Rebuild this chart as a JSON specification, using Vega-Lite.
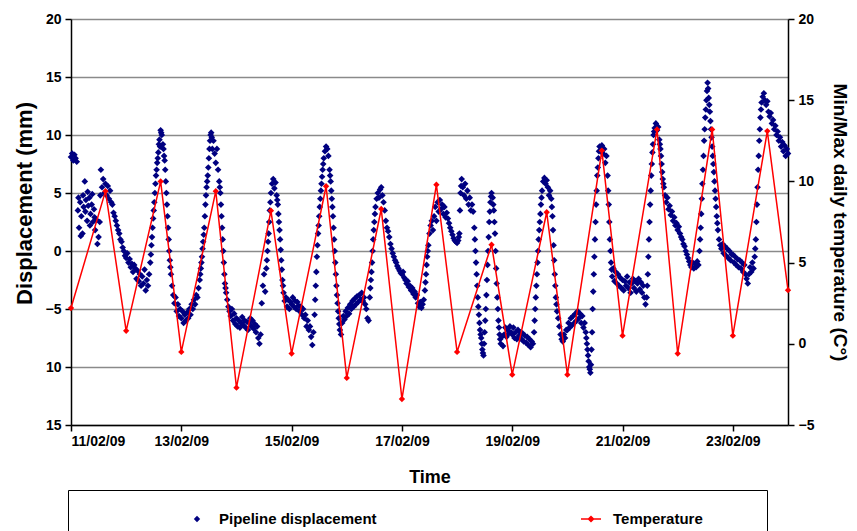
{
"$schema":"https://vega.github.io/schema/vega-lite/v6.json",
"width":717,"height":406,
"autosize":{"type":"none"},
"padding":{"left":71,"top":19,"right":69,"bottom":106},
"background":"#ffffff",
"config":{"view":{"stroke":null},"font":"Liberation Sans",
 "axis":{"domainColor":"#000","domainWidth":1.5,"tickColor":"#000","tickWidth":1.5,"labelColor":"#000","titleColor":"#000","labelFontWeight":"bold","titleFontWeight":"bold","labelFont":"Liberation Sans","titleFont":"Liberation Sans"}},
"datasets":{
"disp":[
{"t":"2009-02-11T00:00","d":8.1},{"t":"2009-02-11T00:30","d":8.4},{"t":"2009-02-11T01:00","d":7.8},{"t":"2009-02-11T01:30","d":8.3},{"t":"2009-02-11T02:00","d":8.0},{"t":"2009-02-11T02:30","d":7.7},{"t":"2009-02-11T03:00","d":3.5},{"t":"2009-02-11T03:15","d":4.6},{"t":"2009-02-11T03:30","d":2.0},{"t":"2009-02-11T04:00","d":4.2},{"t":"2009-02-11T04:15","d":1.3},{"t":"2009-02-11T04:30","d":3.0},{"t":"2009-02-11T05:00","d":1.5},{"t":"2009-02-11T05:15","d":4.8},{"t":"2009-02-11T05:30","d":3.8},{"t":"2009-02-11T06:00","d":6.0},{"t":"2009-02-11T06:15","d":3.4},{"t":"2009-02-11T06:30","d":4.4},{"t":"2009-02-11T07:00","d":2.6},{"t":"2009-02-11T07:15","d":5.1},{"t":"2009-02-11T07:30","d":3.9},{"t":"2009-02-11T08:00","d":4.6},{"t":"2009-02-11T08:15","d":2.2},{"t":"2009-02-11T08:30","d":3.2},{"t":"2009-02-11T09:00","d":4.0},{"t":"2009-02-11T09:15","d":4.9},{"t":"2009-02-11T09:30","d":2.5},{"t":"2009-02-11T10:00","d":3.6},{"t":"2009-02-11T10:15","d":2.9},{"t":"2009-02-11T10:30","d":1.8},{"t":"2009-02-11T11:00","d":2.7},{"t":"2009-02-11T11:30","d":0.6},{"t":"2009-02-11T12:00","d":1.2},{"t":"2009-02-11T12:30","d":2.5},{"t":"2009-02-11T12:45","d":4.8},{"t":"2009-02-11T13:00","d":7.0},{"t":"2009-02-11T13:30","d":5.5},{"t":"2009-02-11T14:00","d":6.2},{"t":"2009-02-11T14:30","d":5.0},{"t":"2009-02-11T15:00","d":5.8},{"t":"2009-02-11T15:30","d":4.8},{"t":"2009-02-11T16:00","d":5.6},{"t":"2009-02-11T16:30","d":4.5},{"t":"2009-02-11T17:00","d":5.2},{"t":"2009-02-11T17:30","d":4.2},{"t":"2009-02-11T18:00","d":4.0},{"t":"2009-02-11T18:30","d":3.3},{"t":"2009-02-11T19:00","d":3.0},{"t":"2009-02-11T19:30","d":2.6},{"t":"2009-02-11T20:00","d":2.2},{"t":"2009-02-11T20:30","d":1.8},{"t":"2009-02-11T21:00","d":1.5},{"t":"2009-02-11T21:30","d":1.0},{"t":"2009-02-11T22:00","d":0.8},{"t":"2009-02-11T22:30","d":0.3},{"t":"2009-02-11T23:00","d":0.0},{"t":"2009-02-11T23:30","d":-0.4},
{"t":"2009-02-12T00:00","d":-0.6},{"t":"2009-02-12T00:30","d":-0.2},{"t":"2009-02-12T01:00","d":-1.0},{"t":"2009-02-12T01:30","d":-0.7},{"t":"2009-02-12T02:00","d":-1.4},{"t":"2009-02-12T02:30","d":-1.1},{"t":"2009-02-12T03:00","d":-1.8},{"t":"2009-02-12T03:30","d":-1.2},{"t":"2009-02-12T04:00","d":-1.5},{"t":"2009-02-12T04:30","d":-2.4},{"t":"2009-02-12T05:00","d":-1.7},{"t":"2009-02-12T05:30","d":-2.6},{"t":"2009-02-12T06:00","d":-2.0},{"t":"2009-02-12T06:30","d":-3.0},{"t":"2009-02-12T07:00","d":-2.2},{"t":"2009-02-12T07:30","d":-2.8},{"t":"2009-02-12T08:00","d":-1.6},{"t":"2009-02-12T08:30","d":-3.4},{"t":"2009-02-12T09:00","d":-2.5},{"t":"2009-02-12T09:30","d":-3.0},{"t":"2009-02-12T10:00","d":-2.0},{"t":"2009-02-12T10:30","d":-1.0},{"t":"2009-02-12T11:00","d":0.5},{"t":"2009-02-12T11:30","d":2.0},{"t":"2009-02-12T12:00","d":3.5},{"t":"2009-02-12T12:30","d":5.0},{"t":"2009-02-12T13:00","d":6.5},{"t":"2009-02-12T13:30","d":7.6},{"t":"2009-02-12T14:00","d":8.5},{"t":"2009-02-12T14:30","d":9.6},{"t":"2009-02-12T14:45","d":9.0},{"t":"2009-02-12T15:00","d":10.4},{"t":"2009-02-12T15:15","d":10.2},{"t":"2009-02-12T15:30","d":10.0},{"t":"2009-02-12T16:00","d":9.2},{"t":"2009-02-12T16:15","d":8.8},{"t":"2009-02-12T16:30","d":8.2},{"t":"2009-02-12T17:00","d":7.0},{"t":"2009-02-12T17:30","d":5.0},{"t":"2009-02-12T18:00","d":3.0},{"t":"2009-02-12T18:30","d":1.0},{"t":"2009-02-12T19:00","d":-0.8},{"t":"2009-02-12T19:30","d":-2.0},{"t":"2009-02-12T20:00","d":-3.0},{"t":"2009-02-12T20:30","d":-3.8},{"t":"2009-02-12T21:00","d":-4.5},{"t":"2009-02-12T21:30","d":-4.0},{"t":"2009-02-12T22:00","d":-5.2},{"t":"2009-02-12T22:30","d":-4.6},{"t":"2009-02-12T23:00","d":-5.6},{"t":"2009-02-12T23:30","d":-5.0},
{"t":"2009-02-13T00:00","d":-5.8},{"t":"2009-02-13T00:30","d":-5.2},{"t":"2009-02-13T01:00","d":-6.2},{"t":"2009-02-13T01:30","d":-5.5},{"t":"2009-02-13T02:00","d":-6.0},{"t":"2009-02-13T02:30","d":-5.3},{"t":"2009-02-13T03:00","d":-5.8},{"t":"2009-02-13T03:30","d":-5.0},{"t":"2009-02-13T04:00","d":-5.5},{"t":"2009-02-13T04:30","d":-4.6},{"t":"2009-02-13T05:00","d":-5.0},{"t":"2009-02-13T05:30","d":-4.2},{"t":"2009-02-13T06:00","d":-4.6},{"t":"2009-02-13T06:30","d":-3.8},{"t":"2009-02-13T07:00","d":-4.0},{"t":"2009-02-13T07:30","d":-3.2},{"t":"2009-02-13T08:00","d":-2.5},{"t":"2009-02-13T08:30","d":-1.5},{"t":"2009-02-13T09:00","d":-0.5},{"t":"2009-02-13T09:30","d":0.8},{"t":"2009-02-13T10:00","d":2.0},{"t":"2009-02-13T10:30","d":4.0},{"t":"2009-02-13T11:00","d":5.5},{"t":"2009-02-13T11:30","d":6.5},{"t":"2009-02-13T12:00","d":8.0},{"t":"2009-02-13T12:30","d":9.5},{"t":"2009-02-13T13:00","d":10.2},{"t":"2009-02-13T13:15","d":9.8},{"t":"2009-02-13T13:30","d":8.8},{"t":"2009-02-13T14:00","d":9.5},{"t":"2009-02-13T14:30","d":8.4},{"t":"2009-02-13T15:00","d":7.6},{"t":"2009-02-13T15:30","d":8.8},{"t":"2009-02-13T16:00","d":7.0},{"t":"2009-02-13T16:30","d":6.0},{"t":"2009-02-13T17:00","d":5.0},{"t":"2009-02-13T17:30","d":3.0},{"t":"2009-02-13T18:00","d":1.0},{"t":"2009-02-13T18:30","d":-1.0},{"t":"2009-02-13T19:00","d":-2.8},{"t":"2009-02-13T19:30","d":-3.6},{"t":"2009-02-13T20:00","d":-4.2},{"t":"2009-02-13T20:30","d":-4.8},{"t":"2009-02-13T21:00","d":-5.2},{"t":"2009-02-13T21:30","d":-5.6},{"t":"2009-02-13T22:00","d":-5.0},{"t":"2009-02-13T22:30","d":-6.0},{"t":"2009-02-13T23:00","d":-5.4},{"t":"2009-02-13T23:30","d":-6.3},
{"t":"2009-02-14T00:00","d":-5.8},{"t":"2009-02-14T00:30","d":-6.5},{"t":"2009-02-14T01:00","d":-6.0},{"t":"2009-02-14T01:30","d":-6.6},{"t":"2009-02-14T02:00","d":-6.2},{"t":"2009-02-14T02:30","d":-5.7},{"t":"2009-02-14T03:00","d":-6.4},{"t":"2009-02-14T03:30","d":-6.0},{"t":"2009-02-14T04:00","d":-6.6},{"t":"2009-02-14T04:30","d":-6.1},{"t":"2009-02-14T05:00","d":-6.8},{"t":"2009-02-14T05:30","d":-6.2},{"t":"2009-02-14T06:00","d":-5.8},{"t":"2009-02-14T06:30","d":-6.5},{"t":"2009-02-14T07:00","d":-6.0},{"t":"2009-02-14T07:30","d":-6.7},{"t":"2009-02-14T08:00","d":-6.3},{"t":"2009-02-14T08:30","d":-7.0},{"t":"2009-02-14T09:00","d":-6.5},{"t":"2009-02-14T09:30","d":-7.5},{"t":"2009-02-14T10:00","d":-8.0},{"t":"2009-02-14T10:30","d":-7.2},{"t":"2009-02-14T11:00","d":-4.5},{"t":"2009-02-14T11:30","d":-3.0},{"t":"2009-02-14T12:00","d":-2.0},{"t":"2009-02-14T12:30","d":-3.5},{"t":"2009-02-14T13:00","d":-1.5},{"t":"2009-02-14T13:30","d":0.0},{"t":"2009-02-14T14:00","d":1.5},{"t":"2009-02-14T14:30","d":3.5},{"t":"2009-02-14T15:00","d":5.0},{"t":"2009-02-14T15:30","d":5.8},{"t":"2009-02-14T16:00","d":6.2},{"t":"2009-02-14T16:30","d":5.4},{"t":"2009-02-14T17:00","d":5.9},{"t":"2009-02-14T17:30","d":4.8},{"t":"2009-02-14T18:00","d":4.0},{"t":"2009-02-14T18:30","d":2.5},{"t":"2009-02-14T19:00","d":1.0},{"t":"2009-02-14T19:30","d":-0.8},{"t":"2009-02-14T20:00","d":-2.5},{"t":"2009-02-14T20:30","d":-3.6},{"t":"2009-02-14T21:00","d":-4.3},{"t":"2009-02-14T21:30","d":-4.0},{"t":"2009-02-14T22:00","d":-4.8},{"t":"2009-02-14T22:30","d":-4.2},{"t":"2009-02-14T23:00","d":-5.0},{"t":"2009-02-14T23:30","d":-4.4},
{"t":"2009-02-15T00:00","d":-4.6},{"t":"2009-02-15T00:30","d":-4.0},{"t":"2009-02-15T01:00","d":-4.8},{"t":"2009-02-15T01:30","d":-4.3},{"t":"2009-02-15T02:00","d":-5.0},{"t":"2009-02-15T02:30","d":-4.4},{"t":"2009-02-15T03:00","d":-4.7},{"t":"2009-02-15T03:30","d":-5.2},{"t":"2009-02-15T04:00","d":-4.8},{"t":"2009-02-15T04:30","d":-5.5},{"t":"2009-02-15T05:00","d":-5.0},{"t":"2009-02-15T05:30","d":-5.8},{"t":"2009-02-15T06:00","d":-5.5},{"t":"2009-02-15T06:30","d":-6.5},{"t":"2009-02-15T07:00","d":-6.0},{"t":"2009-02-15T07:30","d":-6.8},{"t":"2009-02-15T08:00","d":-6.5},{"t":"2009-02-15T08:30","d":-7.4},{"t":"2009-02-15T09:00","d":-8.1},{"t":"2009-02-15T09:30","d":-7.0},{"t":"2009-02-15T10:00","d":-5.5},{"t":"2009-02-15T10:30","d":-3.0},{"t":"2009-02-15T11:00","d":-0.5},{"t":"2009-02-15T11:30","d":1.5},{"t":"2009-02-15T12:00","d":3.0},{"t":"2009-02-15T12:30","d":4.5},{"t":"2009-02-15T13:00","d":5.8},{"t":"2009-02-15T13:30","d":7.0},{"t":"2009-02-15T14:00","d":8.0},{"t":"2009-02-15T14:30","d":8.6},{"t":"2009-02-15T15:00","d":9.0},{"t":"2009-02-15T15:30","d":8.8},{"t":"2009-02-15T16:00","d":8.2},{"t":"2009-02-15T16:30","d":7.0},{"t":"2009-02-15T17:00","d":6.0},{"t":"2009-02-15T17:30","d":4.5},{"t":"2009-02-15T18:00","d":3.0},{"t":"2009-02-15T18:30","d":1.0},{"t":"2009-02-15T19:00","d":-1.0},{"t":"2009-02-15T19:30","d":-3.0},{"t":"2009-02-15T20:00","d":-4.5},{"t":"2009-02-15T20:30","d":-5.8},{"t":"2009-02-15T21:00","d":-6.8},{"t":"2009-02-15T21:30","d":-7.2},{"t":"2009-02-15T22:00","d":-6.2},{"t":"2009-02-15T22:30","d":-5.6},{"t":"2009-02-15T23:00","d":-5.9},{"t":"2009-02-15T23:30","d":-5.2},
{"t":"2009-02-16T00:00","d":-5.6},{"t":"2009-02-16T00:30","d":-4.9},{"t":"2009-02-16T01:00","d":-5.4},{"t":"2009-02-16T01:30","d":-4.6},{"t":"2009-02-16T02:00","d":-5.0},{"t":"2009-02-16T02:30","d":-4.3},{"t":"2009-02-16T03:00","d":-4.8},{"t":"2009-02-16T03:30","d":-4.1},{"t":"2009-02-16T04:00","d":-4.6},{"t":"2009-02-16T04:30","d":-3.9},{"t":"2009-02-16T05:00","d":-4.4},{"t":"2009-02-16T05:30","d":-3.8},{"t":"2009-02-16T06:00","d":-4.2},{"t":"2009-02-16T06:30","d":-3.6},{"t":"2009-02-16T07:00","d":-4.3},{"t":"2009-02-16T07:30","d":-4.0},{"t":"2009-02-16T08:00","d":-4.6},{"t":"2009-02-16T08:30","d":-5.0},{"t":"2009-02-16T09:00","d":-5.8},{"t":"2009-02-16T09:30","d":-6.0},{"t":"2009-02-16T10:00","d":-4.0},{"t":"2009-02-16T10:30","d":-2.5},{"t":"2009-02-16T11:00","d":-1.0},{"t":"2009-02-16T11:30","d":1.0},{"t":"2009-02-16T12:00","d":2.5},{"t":"2009-02-16T12:30","d":3.8},{"t":"2009-02-16T13:00","d":4.5},{"t":"2009-02-16T13:30","d":5.0},{"t":"2009-02-16T14:00","d":4.6},{"t":"2009-02-16T14:30","d":5.3},{"t":"2009-02-16T15:00","d":5.5},{"t":"2009-02-16T15:30","d":4.8},{"t":"2009-02-16T16:00","d":4.2},{"t":"2009-02-16T16:30","d":3.5},{"t":"2009-02-16T17:00","d":2.6},{"t":"2009-02-16T17:30","d":2.0},{"t":"2009-02-16T18:00","d":1.7},{"t":"2009-02-16T18:30","d":1.2},{"t":"2009-02-16T19:00","d":0.6},{"t":"2009-02-16T19:30","d":0.2},{"t":"2009-02-16T20:00","d":-0.2},{"t":"2009-02-16T20:30","d":-0.5},{"t":"2009-02-16T21:00","d":-0.8},{"t":"2009-02-16T21:30","d":-1.0},{"t":"2009-02-16T22:00","d":-1.3},{"t":"2009-02-16T22:30","d":-1.5},{"t":"2009-02-16T23:00","d":-1.7},{"t":"2009-02-16T23:30","d":-1.9},
{"t":"2009-02-17T00:00","d":-2.0},{"t":"2009-02-17T00:30","d":-1.8},{"t":"2009-02-17T01:00","d":-2.3},{"t":"2009-02-17T01:30","d":-2.5},{"t":"2009-02-17T02:00","d":-2.8},{"t":"2009-02-17T02:30","d":-2.6},{"t":"2009-02-17T03:00","d":-3.1},{"t":"2009-02-17T03:30","d":-3.0},{"t":"2009-02-17T04:00","d":-3.4},{"t":"2009-02-17T04:30","d":-3.2},{"t":"2009-02-17T05:00","d":-3.7},{"t":"2009-02-17T05:30","d":-3.5},{"t":"2009-02-17T06:00","d":-4.0},{"t":"2009-02-17T06:30","d":-3.8},{"t":"2009-02-17T07:00","d":-4.5},{"t":"2009-02-17T07:30","d":-4.8},{"t":"2009-02-17T08:00","d":-4.4},{"t":"2009-02-17T08:30","d":-4.9},{"t":"2009-02-17T09:00","d":-4.6},{"t":"2009-02-17T09:30","d":-4.2},{"t":"2009-02-17T10:00","d":-3.4},{"t":"2009-02-17T10:30","d":-2.0},{"t":"2009-02-17T11:00","d":-0.5},{"t":"2009-02-17T11:30","d":0.5},{"t":"2009-02-17T12:00","d":1.5},{"t":"2009-02-17T12:30","d":2.2},{"t":"2009-02-17T13:00","d":2.6},{"t":"2009-02-17T13:30","d":1.8},{"t":"2009-02-17T14:00","d":3.0},{"t":"2009-02-17T14:30","d":3.8},{"t":"2009-02-17T15:00","d":2.6},{"t":"2009-02-17T15:30","d":4.2},{"t":"2009-02-17T16:00","d":3.4},{"t":"2009-02-17T16:30","d":4.4},{"t":"2009-02-17T17:00","d":3.6},{"t":"2009-02-17T17:30","d":4.0},{"t":"2009-02-17T18:00","d":3.2},{"t":"2009-02-17T18:30","d":3.8},{"t":"2009-02-17T19:00","d":2.9},{"t":"2009-02-17T19:30","d":3.3},{"t":"2009-02-17T20:00","d":2.8},{"t":"2009-02-17T20:30","d":2.4},{"t":"2009-02-17T21:00","d":2.0},{"t":"2009-02-17T21:30","d":1.7},{"t":"2009-02-17T22:00","d":1.4},{"t":"2009-02-17T22:30","d":1.1},{"t":"2009-02-17T23:00","d":0.9},{"t":"2009-02-17T23:30","d":0.8},
{"t":"2009-02-18T00:00","d":0.7},{"t":"2009-02-18T00:30","d":0.9},{"t":"2009-02-18T01:00","d":1.5},{"t":"2009-02-18T01:15","d":3.5},{"t":"2009-02-18T01:30","d":5.0},{"t":"2009-02-18T02:00","d":6.2},{"t":"2009-02-18T02:30","d":5.5},{"t":"2009-02-18T03:00","d":4.8},{"t":"2009-02-18T03:30","d":5.8},{"t":"2009-02-18T04:00","d":4.5},{"t":"2009-02-18T04:30","d":5.2},{"t":"2009-02-18T05:00","d":4.0},{"t":"2009-02-18T05:30","d":4.6},{"t":"2009-02-18T06:00","d":3.5},{"t":"2009-02-18T06:30","d":4.0},{"t":"2009-02-18T07:00","d":3.4},{"t":"2009-02-18T07:30","d":2.0},{"t":"2009-02-18T08:00","d":0.0},{"t":"2009-02-18T08:30","d":-2.0},{"t":"2009-02-18T09:00","d":-4.0},{"t":"2009-02-18T09:30","d":-5.5},{"t":"2009-02-18T10:00","d":-6.8},{"t":"2009-02-18T10:30","d":-7.5},{"t":"2009-02-18T11:00","d":-8.5},{"t":"2009-02-18T11:30","d":-9.0},{"t":"2009-02-18T12:00","d":-7.0},{"t":"2009-02-18T12:30","d":-5.0},{"t":"2009-02-18T13:00","d":-2.5},{"t":"2009-02-18T13:30","d":0.0},{"t":"2009-02-18T14:00","d":2.5},{"t":"2009-02-18T14:30","d":4.2},{"t":"2009-02-18T15:00","d":5.0},{"t":"2009-02-18T15:30","d":4.6},{"t":"2009-02-18T16:00","d":3.5},{"t":"2009-02-18T16:30","d":1.5},{"t":"2009-02-18T17:00","d":-1.5},{"t":"2009-02-18T17:30","d":-4.0},{"t":"2009-02-18T18:00","d":-6.0},{"t":"2009-02-18T18:30","d":-7.2},{"t":"2009-02-18T19:00","d":-8.0},{"t":"2009-02-18T19:30","d":-7.4},{"t":"2009-02-18T20:00","d":-8.2},{"t":"2009-02-18T20:30","d":-7.2},{"t":"2009-02-18T21:00","d":-6.6},{"t":"2009-02-18T21:30","d":-7.4},{"t":"2009-02-18T22:00","d":-6.8},{"t":"2009-02-18T22:30","d":-7.1},{"t":"2009-02-18T23:00","d":-6.5},{"t":"2009-02-18T23:30","d":-7.0},
{"t":"2009-02-19T00:00","d":-7.2},{"t":"2009-02-19T00:30","d":-6.6},{"t":"2009-02-19T01:00","d":-7.5},{"t":"2009-02-19T01:30","d":-7.0},{"t":"2009-02-19T02:00","d":-7.6},{"t":"2009-02-19T02:30","d":-6.8},{"t":"2009-02-19T03:00","d":-7.3},{"t":"2009-02-19T03:30","d":-7.0},{"t":"2009-02-19T04:00","d":-7.6},{"t":"2009-02-19T04:30","d":-7.1},{"t":"2009-02-19T05:00","d":-7.8},{"t":"2009-02-19T05:30","d":-7.3},{"t":"2009-02-19T06:00","d":-7.9},{"t":"2009-02-19T06:30","d":-7.4},{"t":"2009-02-19T07:00","d":-8.1},{"t":"2009-02-19T07:30","d":-7.6},{"t":"2009-02-19T08:00","d":-8.3},{"t":"2009-02-19T08:30","d":-7.8},{"t":"2009-02-19T09:00","d":-8.0},{"t":"2009-02-19T09:30","d":-7.0},{"t":"2009-02-19T10:00","d":-5.0},{"t":"2009-02-19T10:30","d":-3.0},{"t":"2009-02-19T11:00","d":-1.0},{"t":"2009-02-19T11:30","d":1.0},{"t":"2009-02-19T12:00","d":2.5},{"t":"2009-02-19T12:30","d":4.0},{"t":"2009-02-19T13:00","d":5.2},{"t":"2009-02-19T13:30","d":6.0},{"t":"2009-02-19T14:00","d":6.3},{"t":"2009-02-19T14:30","d":5.8},{"t":"2009-02-19T15:00","d":6.1},{"t":"2009-02-19T15:30","d":5.5},{"t":"2009-02-19T16:00","d":4.8},{"t":"2009-02-19T16:30","d":5.2},{"t":"2009-02-19T17:00","d":4.5},{"t":"2009-02-19T17:30","d":3.0},{"t":"2009-02-19T18:00","d":0.5},{"t":"2009-02-19T18:30","d":-2.0},{"t":"2009-02-19T19:00","d":-4.0},{"t":"2009-02-19T19:30","d":-5.2},{"t":"2009-02-19T20:00","d":-5.8},{"t":"2009-02-19T20:30","d":-6.5},{"t":"2009-02-19T21:00","d":-7.2},{"t":"2009-02-19T21:30","d":-7.6},{"t":"2009-02-19T22:00","d":-7.8},{"t":"2009-02-19T22:30","d":-7.2},{"t":"2009-02-19T23:00","d":-7.5},{"t":"2009-02-19T23:30","d":-6.8},
{"t":"2009-02-20T00:00","d":-6.8},{"t":"2009-02-20T00:30","d":-6.2},{"t":"2009-02-20T01:00","d":-6.6},{"t":"2009-02-20T01:30","d":-5.8},{"t":"2009-02-20T02:00","d":-6.4},{"t":"2009-02-20T02:30","d":-5.6},{"t":"2009-02-20T03:00","d":-6.2},{"t":"2009-02-20T03:30","d":-5.4},{"t":"2009-02-20T04:00","d":-6.0},{"t":"2009-02-20T04:30","d":-5.2},{"t":"2009-02-20T05:00","d":-5.8},{"t":"2009-02-20T05:30","d":-5.4},{"t":"2009-02-20T06:00","d":-6.2},{"t":"2009-02-20T06:30","d":-5.6},{"t":"2009-02-20T07:00","d":-6.6},{"t":"2009-02-20T07:30","d":-6.2},{"t":"2009-02-20T08:00","d":-7.0},{"t":"2009-02-20T08:30","d":-8.0},{"t":"2009-02-20T09:00","d":-9.0},{"t":"2009-02-20T09:30","d":-10.0},{"t":"2009-02-20T10:00","d":-10.5},{"t":"2009-02-20T10:30","d":-8.5},{"t":"2009-02-20T11:00","d":-5.0},{"t":"2009-02-20T11:30","d":-2.0},{"t":"2009-02-20T12:00","d":1.0},{"t":"2009-02-20T12:30","d":4.0},{"t":"2009-02-20T13:00","d":6.5},{"t":"2009-02-20T13:30","d":8.0},{"t":"2009-02-20T14:00","d":9.0},{"t":"2009-02-20T14:30","d":8.6},{"t":"2009-02-20T15:00","d":9.1},{"t":"2009-02-20T15:30","d":8.4},{"t":"2009-02-20T16:00","d":8.8},{"t":"2009-02-20T16:30","d":7.6},{"t":"2009-02-20T17:00","d":8.2},{"t":"2009-02-20T17:30","d":6.5},{"t":"2009-02-20T18:00","d":4.0},{"t":"2009-02-20T18:30","d":1.0},{"t":"2009-02-20T19:00","d":-1.0},{"t":"2009-02-20T19:30","d":-2.2},{"t":"2009-02-20T20:00","d":-1.5},{"t":"2009-02-20T20:30","d":-2.6},{"t":"2009-02-20T21:00","d":-1.8},{"t":"2009-02-20T21:30","d":-2.8},{"t":"2009-02-20T22:00","d":-2.0},{"t":"2009-02-20T22:30","d":-3.0},{"t":"2009-02-20T23:00","d":-2.3},{"t":"2009-02-20T23:30","d":-3.2},
{"t":"2009-02-21T00:00","d":-2.5},{"t":"2009-02-21T00:30","d":-3.4},{"t":"2009-02-21T01:00","d":-2.6},{"t":"2009-02-21T01:30","d":-3.0},{"t":"2009-02-21T02:00","d":-2.2},{"t":"2009-02-21T02:30","d":-3.2},{"t":"2009-02-21T03:00","d":-2.7},{"t":"2009-02-21T03:30","d":-3.6},{"t":"2009-02-21T04:00","d":-2.8},{"t":"2009-02-21T04:30","d":-2.4},{"t":"2009-02-21T05:00","d":-3.2},{"t":"2009-02-21T05:30","d":-2.6},{"t":"2009-02-21T06:00","d":-3.5},{"t":"2009-02-21T06:30","d":-2.8},{"t":"2009-02-21T07:00","d":-2.4},{"t":"2009-02-21T07:30","d":-3.3},{"t":"2009-02-21T08:00","d":-2.7},{"t":"2009-02-21T08:30","d":-3.6},{"t":"2009-02-21T09:00","d":-3.0},{"t":"2009-02-21T09:30","d":-4.0},{"t":"2009-02-21T10:00","d":-4.6},{"t":"2009-02-21T10:30","d":-4.0},{"t":"2009-02-21T11:00","d":-2.0},{"t":"2009-02-21T11:30","d":1.0},{"t":"2009-02-21T12:00","d":4.0},{"t":"2009-02-21T12:30","d":6.5},{"t":"2009-02-21T13:00","d":8.5},{"t":"2009-02-21T13:30","d":10.0},{"t":"2009-02-21T14:00","d":10.6},{"t":"2009-02-21T14:30","d":11.0},{"t":"2009-02-21T15:00","d":10.4},{"t":"2009-02-21T15:30","d":10.7},{"t":"2009-02-21T16:00","d":9.6},{"t":"2009-02-21T16:30","d":8.8},{"t":"2009-02-21T17:00","d":7.5},{"t":"2009-02-21T17:30","d":6.2},{"t":"2009-02-21T18:00","d":5.5},{"t":"2009-02-21T18:30","d":4.8},{"t":"2009-02-21T19:00","d":4.2},{"t":"2009-02-21T19:30","d":4.6},{"t":"2009-02-21T20:00","d":3.6},{"t":"2009-02-21T20:30","d":3.9},{"t":"2009-02-21T21:00","d":3.1},{"t":"2009-02-21T21:30","d":3.4},{"t":"2009-02-21T22:00","d":2.6},{"t":"2009-02-21T22:30","d":2.9},{"t":"2009-02-21T23:00","d":2.2},{"t":"2009-02-21T23:30","d":2.4},
{"t":"2009-02-22T00:00","d":1.8},{"t":"2009-02-22T00:30","d":2.1},{"t":"2009-02-22T01:00","d":1.5},{"t":"2009-02-22T01:30","d":1.2},{"t":"2009-02-22T02:00","d":1.0},{"t":"2009-02-22T02:30","d":0.6},{"t":"2009-02-22T03:00","d":0.4},{"t":"2009-02-22T03:30","d":0.0},{"t":"2009-02-22T04:00","d":-0.3},{"t":"2009-02-22T04:30","d":-0.6},{"t":"2009-02-22T05:00","d":-0.9},{"t":"2009-02-22T05:30","d":-1.2},{"t":"2009-02-22T06:00","d":-1.4},{"t":"2009-02-22T06:30","d":-1.0},{"t":"2009-02-22T07:00","d":-1.5},{"t":"2009-02-22T07:30","d":-1.1},{"t":"2009-02-22T08:00","d":-1.4},{"t":"2009-02-22T08:30","d":-0.9},{"t":"2009-02-22T09:00","d":-1.2},{"t":"2009-02-22T09:30","d":0.0},{"t":"2009-02-22T10:00","d":2.0},{"t":"2009-02-22T10:30","d":4.5},{"t":"2009-02-22T11:00","d":7.0},{"t":"2009-02-22T11:30","d":9.5},{"t":"2009-02-22T12:00","d":11.5},{"t":"2009-02-22T12:30","d":13.0},{"t":"2009-02-22T13:00","d":14.5},{"t":"2009-02-22T13:15","d":14.0},{"t":"2009-02-22T13:30","d":13.2},{"t":"2009-02-22T14:00","d":12.0},{"t":"2009-02-22T14:30","d":10.5},{"t":"2009-02-22T15:00","d":9.0},{"t":"2009-02-22T15:30","d":7.5},{"t":"2009-02-22T16:00","d":6.0},{"t":"2009-02-22T16:30","d":4.5},{"t":"2009-02-22T17:00","d":3.0},{"t":"2009-02-22T17:30","d":1.8},{"t":"2009-02-22T18:00","d":1.0},{"t":"2009-02-22T18:30","d":0.5},{"t":"2009-02-22T19:00","d":0.2},{"t":"2009-02-22T19:30","d":0.6},{"t":"2009-02-22T20:00","d":-0.2},{"t":"2009-02-22T20:30","d":0.4},{"t":"2009-02-22T21:00","d":-0.4},{"t":"2009-02-22T21:30","d":0.2},{"t":"2009-02-22T22:00","d":-0.6},{"t":"2009-02-22T22:30","d":0.0},{"t":"2009-02-22T23:00","d":-0.8},{"t":"2009-02-22T23:30","d":-0.3},
{"t":"2009-02-23T00:00","d":-0.3},{"t":"2009-02-23T00:30","d":-1.0},{"t":"2009-02-23T01:00","d":-0.5},{"t":"2009-02-23T01:30","d":-1.2},{"t":"2009-02-23T02:00","d":-0.7},{"t":"2009-02-23T02:30","d":-1.4},{"t":"2009-02-23T03:00","d":-0.8},{"t":"2009-02-23T03:30","d":-1.5},{"t":"2009-02-23T04:00","d":-1.0},{"t":"2009-02-23T04:30","d":-1.8},{"t":"2009-02-23T05:00","d":-1.2},{"t":"2009-02-23T05:30","d":-2.0},{"t":"2009-02-23T06:00","d":-2.4},{"t":"2009-02-23T06:30","d":-2.8},{"t":"2009-02-23T07:00","d":-2.0},{"t":"2009-02-23T07:30","d":-1.4},{"t":"2009-02-23T08:00","d":-1.8},{"t":"2009-02-23T08:30","d":-1.0},{"t":"2009-02-23T09:00","d":-1.5},{"t":"2009-02-23T09:30","d":-0.5},{"t":"2009-02-23T10:00","d":1.0},{"t":"2009-02-23T10:30","d":4.0},{"t":"2009-02-23T11:00","d":7.0},{"t":"2009-02-23T11:30","d":9.5},{"t":"2009-02-23T12:00","d":11.5},{"t":"2009-02-23T12:30","d":12.8},{"t":"2009-02-23T13:00","d":13.3},{"t":"2009-02-23T13:30","d":13.6},{"t":"2009-02-23T14:00","d":13.0},{"t":"2009-02-23T14:30","d":12.6},{"t":"2009-02-23T15:00","d":12.9},{"t":"2009-02-23T15:30","d":12.0},{"t":"2009-02-23T16:00","d":11.6},{"t":"2009-02-23T16:30","d":11.9},{"t":"2009-02-23T17:00","d":11.0},{"t":"2009-02-23T17:30","d":11.3},{"t":"2009-02-23T18:00","d":10.5},{"t":"2009-02-23T18:30","d":10.8},{"t":"2009-02-23T19:00","d":10.0},{"t":"2009-02-23T19:30","d":10.3},{"t":"2009-02-23T20:00","d":9.5},{"t":"2009-02-23T20:30","d":9.8},{"t":"2009-02-23T21:00","d":9.0},{"t":"2009-02-23T21:30","d":9.4},{"t":"2009-02-23T22:00","d":8.6},{"t":"2009-02-23T22:30","d":9.1},{"t":"2009-02-23T23:00","d":8.2},{"t":"2009-02-23T23:30","d":8.8},{"t":"2009-02-24T00:00","d":8.4},
{"t":"2009-02-12T10:45","d":-0.3},{"t":"2009-02-12T11:15","d":1.2},{"t":"2009-02-12T11:45","d":2.8},{"t":"2009-02-12T12:15","d":4.2},{"t":"2009-02-12T12:45","d":5.8},{"t":"2009-02-12T13:15","d":7.0},{"t":"2009-02-12T13:45","d":8.0},{"t":"2009-02-12T14:15","d":9.2},{"t":"2009-02-12T16:45","d":7.8},{"t":"2009-02-12T17:15","d":6.0},{"t":"2009-02-12T17:45","d":4.0},{"t":"2009-02-12T18:15","d":2.0},{"t":"2009-02-12T18:45","d":0.0},{"t":"2009-02-12T19:15","d":-1.4},
{"t":"2009-02-13T08:15","d":-2.0},{"t":"2009-02-13T08:45","d":-1.0},{"t":"2009-02-13T09:15","d":0.2},{"t":"2009-02-13T09:45","d":1.4},{"t":"2009-02-13T10:15","d":3.0},{"t":"2009-02-13T10:45","d":4.8},{"t":"2009-02-13T11:15","d":6.0},{"t":"2009-02-13T11:45","d":7.2},{"t":"2009-02-13T12:15","d":8.8},{"t":"2009-02-13T12:45","d":10.0},{"t":"2009-02-13T16:45","d":5.5},{"t":"2009-02-13T17:15","d":4.0},{"t":"2009-02-13T17:45","d":2.0},{"t":"2009-02-13T18:15","d":0.0},{"t":"2009-02-13T18:45","d":-2.0},{"t":"2009-02-13T19:15","d":-3.2},
{"t":"2009-02-14T13:15","d":-0.8},{"t":"2009-02-14T13:45","d":0.8},{"t":"2009-02-14T14:15","d":2.5},{"t":"2009-02-14T14:45","d":4.2},{"t":"2009-02-14T17:45","d":4.4},{"t":"2009-02-14T18:15","d":3.2},{"t":"2009-02-14T18:45","d":1.8},{"t":"2009-02-14T19:15","d":0.1},{"t":"2009-02-14T19:45","d":-1.6},{"t":"2009-02-14T20:15","d":-3.0},
{"t":"2009-02-15T10:15","d":-4.2},{"t":"2009-02-15T10:45","d":-1.8},{"t":"2009-02-15T11:15","d":0.5},{"t":"2009-02-15T11:45","d":2.2},{"t":"2009-02-15T12:15","d":3.8},{"t":"2009-02-15T12:45","d":5.2},{"t":"2009-02-15T13:15","d":6.4},{"t":"2009-02-15T13:45","d":7.5},{"t":"2009-02-15T16:45","d":6.5},{"t":"2009-02-15T17:15","d":5.2},{"t":"2009-02-15T17:45","d":3.8},{"t":"2009-02-15T18:15","d":2.0},{"t":"2009-02-15T18:45","d":0.0},{"t":"2009-02-15T19:15","d":-2.0},{"t":"2009-02-15T19:45","d":-3.8},{"t":"2009-02-15T20:15","d":-5.2},{"t":"2009-02-15T20:45","d":-6.3},
{"t":"2009-02-16T10:15","d":-3.2},{"t":"2009-02-16T10:45","d":-1.8},{"t":"2009-02-16T11:15","d":0.0},{"t":"2009-02-16T11:45","d":1.8},{"t":"2009-02-16T12:15","d":3.2},
{"t":"2009-02-17T10:15","d":-2.7},{"t":"2009-02-17T10:45","d":-1.2},{"t":"2009-02-17T11:15","d":0.0},
{"t":"2009-02-18T00:45","d":1.2},{"t":"2009-02-18T01:45","d":5.6},{"t":"2009-02-18T07:45","d":1.0},{"t":"2009-02-18T08:15","d":-1.0},{"t":"2009-02-18T08:45","d":-3.0},{"t":"2009-02-18T09:15","d":-4.8},{"t":"2009-02-18T09:45","d":-6.2},{"t":"2009-02-18T10:15","d":-7.2},{"t":"2009-02-18T10:45","d":-8.0},{"t":"2009-02-18T11:15","d":-8.8},{"t":"2009-02-18T11:45","d":-8.0},{"t":"2009-02-18T12:15","d":-6.0},{"t":"2009-02-18T12:45","d":-3.8},{"t":"2009-02-18T13:15","d":-1.2},{"t":"2009-02-18T13:45","d":1.2},{"t":"2009-02-18T14:15","d":3.4},{"t":"2009-02-18T14:45","d":4.7},{"t":"2009-02-18T15:45","d":4.0},{"t":"2009-02-18T16:15","d":2.5},{"t":"2009-02-18T16:45","d":0.0},{"t":"2009-02-18T17:15","d":-2.8},{"t":"2009-02-18T17:45","d":-5.0},{"t":"2009-02-18T18:15","d":-6.6},{"t":"2009-02-18T18:45","d":-7.6},
{"t":"2009-02-19T09:45","d":-6.0},{"t":"2009-02-19T10:15","d":-4.0},{"t":"2009-02-19T10:45","d":-2.0},{"t":"2009-02-19T11:15","d":0.0},{"t":"2009-02-19T11:45","d":1.8},{"t":"2009-02-19T12:15","d":3.2},{"t":"2009-02-19T12:45","d":4.6},{"t":"2009-02-19T17:15","d":3.8},{"t":"2009-02-19T17:45","d":1.8},{"t":"2009-02-19T18:15","d":-0.8},{"t":"2009-02-19T18:45","d":-3.0},{"t":"2009-02-19T19:15","d":-4.6},
{"t":"2009-02-20T08:15","d":-7.5},{"t":"2009-02-20T08:45","d":-8.5},{"t":"2009-02-20T09:15","d":-9.5},{"t":"2009-02-20T09:45","d":-10.2},{"t":"2009-02-20T10:15","d":-9.8},{"t":"2009-02-20T10:45","d":-7.0},{"t":"2009-02-20T11:15","d":-3.5},{"t":"2009-02-20T11:45","d":-0.5},{"t":"2009-02-20T12:15","d":2.5},{"t":"2009-02-20T12:45","d":5.2},{"t":"2009-02-20T13:15","d":7.2},{"t":"2009-02-20T13:45","d":8.6},{"t":"2009-02-20T17:45","d":5.2},{"t":"2009-02-20T18:15","d":2.5},{"t":"2009-02-20T18:45","d":0.0},{"t":"2009-02-20T19:15","d":-1.6},
{"t":"2009-02-21T10:45","d":-3.0},{"t":"2009-02-21T11:15","d":-0.5},{"t":"2009-02-21T11:45","d":2.5},{"t":"2009-02-21T12:15","d":5.2},{"t":"2009-02-21T12:45","d":7.5},{"t":"2009-02-21T13:15","d":9.2},{"t":"2009-02-21T13:45","d":10.3},{"t":"2009-02-21T16:15","d":9.2},{"t":"2009-02-21T16:45","d":8.2},{"t":"2009-02-21T17:15","d":6.8},{"t":"2009-02-21T17:45","d":5.8},
{"t":"2009-02-22T09:45","d":1.0},{"t":"2009-02-22T10:15","d":3.2},{"t":"2009-02-22T10:45","d":5.8},{"t":"2009-02-22T11:15","d":8.2},{"t":"2009-02-22T11:45","d":10.5},{"t":"2009-02-22T12:15","d":12.2},{"t":"2009-02-22T12:45","d":13.8},{"t":"2009-02-22T13:45","d":12.6},{"t":"2009-02-22T14:15","d":11.2},{"t":"2009-02-22T14:45","d":9.8},{"t":"2009-02-22T15:15","d":8.2},{"t":"2009-02-22T15:45","d":6.8},{"t":"2009-02-22T16:15","d":5.2},{"t":"2009-02-22T16:45","d":3.8},{"t":"2009-02-22T17:15","d":2.4},
{"t":"2009-02-23T09:45","d":0.2},{"t":"2009-02-23T10:15","d":2.5},{"t":"2009-02-23T10:45","d":5.5},{"t":"2009-02-23T11:15","d":8.2},{"t":"2009-02-23T11:45","d":10.5},{"t":"2009-02-23T12:15","d":12.2}
],
"temp":[
{"t":"2009-02-11T00:00","temp":2.2},{"t":"2009-02-11T15:00","temp":9.4},{"t":"2009-02-12T00:00","temp":0.8},{"t":"2009-02-12T15:00","temp":10.0},{"t":"2009-02-13T00:00","temp":-0.5},{"t":"2009-02-13T15:00","temp":9.4},{"t":"2009-02-14T00:00","temp":-2.7},{"t":"2009-02-14T15:00","temp":8.2},{"t":"2009-02-15T00:00","temp":-0.6},{"t":"2009-02-15T15:00","temp":9.7},{"t":"2009-02-16T00:00","temp":-2.1},{"t":"2009-02-16T15:00","temp":8.3},{"t":"2009-02-17T00:00","temp":-3.4},{"t":"2009-02-17T15:00","temp":9.8},{"t":"2009-02-18T00:00","temp":-0.5},{"t":"2009-02-18T15:00","temp":6.1},{"t":"2009-02-19T00:00","temp":-1.9},{"t":"2009-02-19T15:00","temp":8.1},{"t":"2009-02-20T00:00","temp":-1.9},{"t":"2009-02-20T15:00","temp":11.9},{"t":"2009-02-21T00:00","temp":0.5},{"t":"2009-02-21T15:00","temp":13.2},{"t":"2009-02-22T00:00","temp":-0.6},{"t":"2009-02-22T15:00","temp":13.2},{"t":"2009-02-23T00:00","temp":0.5},{"t":"2009-02-23T15:00","temp":13.1},{"t":"2009-02-24T00:00","temp":3.3}
]},
"layer":[
{"data":{"name":"disp"},
 "mark":{"type":"point","shape":"diamond","filled":true,"size":44,"opacity":1},
 "encoding":{
  "x":{"field":"t","type":"temporal","scale":{"domain":[{"year":2009,"month":2,"date":11},{"year":2009,"month":2,"date":24}]},
   "axis":{"title":"Time","titleFontSize":18,"titlePadding":20,"values":[{"year":2009,"month":2,"date":11},{"year":2009,"month":2,"date":13},{"year":2009,"month":2,"date":15},{"year":2009,"month":2,"date":17},{"year":2009,"month":2,"date":19},{"year":2009,"month":2,"date":21},{"year":2009,"month":2,"date":23}],"format":"%d/%m/%y","labelFontSize":14,"tickSize":6,"labelPadding":3,"grid":false}},
  "y":{"field":"d","type":"quantitative","scale":{"domain":[-15,20]},
   "axis":{"title":"Displacement (mm)","titleFontSize":22,"titlePadding":9,"titleY":184,"values":[-15,-10,-5,0,5,10,15,20],"labelExpr":"datum.value <= -10 ? format(-datum.value, 'd') : datum.label","labelFontSize":14,"tickSize":6,"labelPadding":4,"grid":true,"gridColor":"#8a8a8a","gridWidth":1.5}},
  "color":{"datum":"Pipeline displacement","type":"nominal","scale":{"domain":["Pipeline displacement","Temperature"],"range":["#000080","#ff0000"]},
   "legend":{"orient":"none","legendX":-3,"legendY":471,"direction":"horizontal","title":" ","titleOrient":"right","titlePadding":45,"strokeColor":"#000","padding":19,"symbolOffset":100,"columnPadding":104,"labelOffset":12,"symbolSize":400,"symbolStrokeWidth":0,"symbolOpacity":1,"labelFont":"Liberation Sans","labelFontSize":15,"labelFontWeight":"bold","labelColor":"#000","labelLimit":400}}
 }},
{"data":{"name":"temp"},
 "mark":{"type":"line","strokeWidth":1.5,"point":{"shape":"diamond","filled":true,"size":40,"color":"#ff0000"}},
 "encoding":{
  "x":{"field":"t","type":"temporal"},
  "y":{"field":"temp","type":"quantitative","scale":{"domain":[-5,20]},
   "axis":{"orient":"right","title":"Min/Max daily temperature (C°)","titleFontSize":19,"titlePadding":16,"values":[-5,0,5,10,15,20],"labelFontSize":14,"tickSize":6,"labelPadding":4,"grid":false}},
  "color":{"datum":"Temperature","type":"nominal","legend":null}
 }},
{"data":{"name":"temp"},
 "mark":{"type":"point","filled":true,"opacity":0,"size":10},
 "encoding":{
  "x":{"field":"t","type":"temporal"},
  "y":{"field":"temp","type":"quantitative","scale":{"domain":[-5,20]},"axis":null},
  "color":{"datum":"Temperature","type":"nominal","legend":null},
  "shape":{"datum":"Temperature","type":"nominal","scale":{"domain":["Pipeline displacement","Temperature"],"range":["M0,-0.32L0.32,0L0,0.32L-0.32,0Z","M-1,-0.08L1,-0.08L1,0.08L-1,0.08Z M0,-0.36L0.36,0L0,0.36L-0.36,0Z"]},
   "legend":{"orient":"none","legendX":-3,"legendY":471,"direction":"horizontal","title":" ","titleOrient":"right","titlePadding":45,"strokeColor":"#000","padding":19,"symbolOffset":100,"columnPadding":104,"labelOffset":12,"symbolSize":400,"symbolStrokeWidth":0,"symbolOpacity":1,"labelFont":"Liberation Sans","labelFontSize":15,"labelFontWeight":"bold","labelColor":"#000","labelLimit":400}}
 }}
],
"resolve":{"scale":{"y":"independent"}}
}
